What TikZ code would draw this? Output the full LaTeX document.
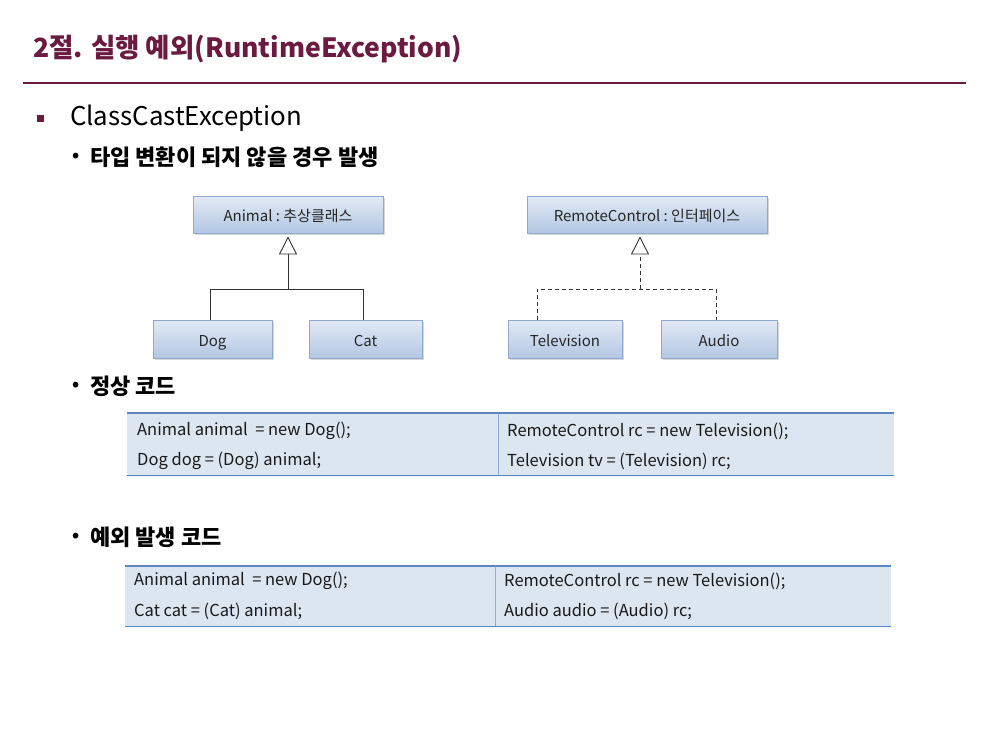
\documentclass[tikz,border=0pt]{standalone}
\usepackage{fontspec}
\setmainfont{Noto Sans CJK KR}
\usetikzlibrary{arrows.meta,shadows}
\definecolor{maroon}{HTML}{6A1B3F}
\definecolor{boxtop}{HTML}{E2EAF5}
\definecolor{boxbot}{HTML}{B3C7E3}
\definecolor{boxline}{HTML}{8EA8CE}
\definecolor{cellfill}{HTML}{DCE6F1}
\definecolor{cellline}{HTML}{5B86C2}
\tikzset{
  umlbox/.style={draw=boxline, line width=0.8pt, top color=boxtop, bottom color=boxbot,
    drop shadow={shadow xshift=2pt, shadow yshift=-2pt, fill=black!25, opacity=0.6},
    text height=14pt, text depth=0pt,
    font=\fontsize{15}{17}\selectfont, text=black!85},
  inherit/.style={draw=black!80, line width=0.9pt},
  realize/.style={inherit, dashed, dash pattern=on 4pt off 3pt},
  gentip/.style={-{Triangle[open, length=18pt, width=18pt, line width=0.9pt]}, shorten >=3pt},
  cell/.style={fill=cellfill, draw=none, anchor=north west, inner sep=0pt},
  code/.style={anchor=west, inner sep=0pt, font=\fontsize{16.5}{19}\selectfont, text=black!90},
  dot/.style={anchor=center, inner sep=0pt, font=\fontsize{18}{20}\selectfont\bfseries},
  bullet/.style={anchor=west, inner sep=0pt, font=\fontsize{22}{25}\selectfont\bfseries},
}
\begin{document}
\begin{tikzpicture}[x=1pt, y=-1pt]
\useasboundingbox[fill=white] (0,0) rectangle (988,739);

% heading
\node[anchor=west, inner sep=0pt, text=maroon, font=\fontsize{26.5}{30}\selectfont\bfseries]
  (title) at (33,49) {2절. 실행 예외(RuntimeException)};
\draw[maroon, line width=1.6pt] (23,83) -- (966,83);

% section bullet
\node[fill=maroon, minimum size=7pt, inner sep=0pt] (sq) at (40,118) {};
\node[anchor=west, inner sep=0pt, font=\fontsize{25.8}{30}\selectfont] (sect) at (70,118) {ClassCastException};
\node[dot] (d1) at (76,157) {•};
\node[bullet] (b1) at (90,157) {타입 변환이 되지 않을 경우 발생};

% class diagrams
\node[umlbox, minimum width=190pt, minimum height=37pt] (animal) at (288,214.5) {Animal\ :\ 추상클래스};
\node[umlbox, minimum width=119pt, minimum height=38pt] (dog) at (212.5,339) {Dog};
\node[umlbox, minimum width=113pt, minimum height=38pt] (cat) at (365.5,339) {Cat};
\coordinate (ja) at (288,289);
\draw[inherit] (dog.north -| 210,0) -- (210,289) -- (363,289) -- (cat.north -| 363,0);
\draw[inherit, gentip] (ja) -- (animal.south);

\node[umlbox, minimum width=240pt, minimum height=37pt] (remote) at (647,214.5) {RemoteControl\ :\ 인터페이스};
\node[umlbox, minimum width=114pt, minimum height=38pt] (tv) at (565,339) {Television};
\node[umlbox, minimum width=116pt, minimum height=38pt] (audio) at (719,339) {Audio};
\coordinate (jr) at (640,289);
\draw[realize] (tv.north -| 537,0) -- (537,289) -- (716,289) -- (audio.north -| 716,0);
\draw[realize, gentip] (jr) -- (remote.south -| jr);

% normal code
\node[dot] (d2) at (76,386) {•};
\node[bullet] (b2) at (90,386) {정상 코드};
\node[cell, minimum width=371pt, minimum height=62pt] (n1) at (127,413) {};
\node[cell, minimum width=396pt, minimum height=62pt] (n2) at (498,413) {};
\draw[cellline, line width=1.4pt] (n1.north west) -- (n2.north east);
\draw[cellline, line width=1.4pt] (n1.south west) -- (n2.south east);
\draw[cellline!70, line width=0.8pt] (n2.north west) -- (n2.south west);
\node[code] (n1a) at (137,431) {Animal animal\ \ = new Dog();};
\node[code] (n1b) at (137,461) {Dog dog = (Dog) animal;};
\node[code] (n2a) at (507,431) {RemoteControl rc =\ new Television();};
\node[code] (n2b) at (507,461) {Television tv = (Television) rc;};

% failing code
\node[dot] (d3) at (76,537) {•};
\node[bullet] (b3) at (90,537) {예외 발생 코드};
\node[cell, minimum width=370pt, minimum height=60pt] (e1) at (125,566) {};
\node[cell, minimum width=396pt, minimum height=60pt] (e2) at (495,566) {};
\draw[cellline, line width=1.4pt] (e1.north west) -- (e2.north east);
\draw[cellline, line width=1.4pt] (e1.south west) -- (e2.south east);
\draw[cellline!70, line width=0.8pt] (e2.north west) -- (e2.south west);
\node[code] (e1a) at (134,581) {Animal animal\ \ = new Dog();};
\node[code] (e1b) at (134,611) {Cat cat = (Cat)\ animal;};
\node[code] (e2a) at (504,581) {RemoteControl rc =\ new Television();};
\node[code] (e2b) at (504,611) {Audio audio = (Audio) rc;};
\end{tikzpicture}
\end{document}
